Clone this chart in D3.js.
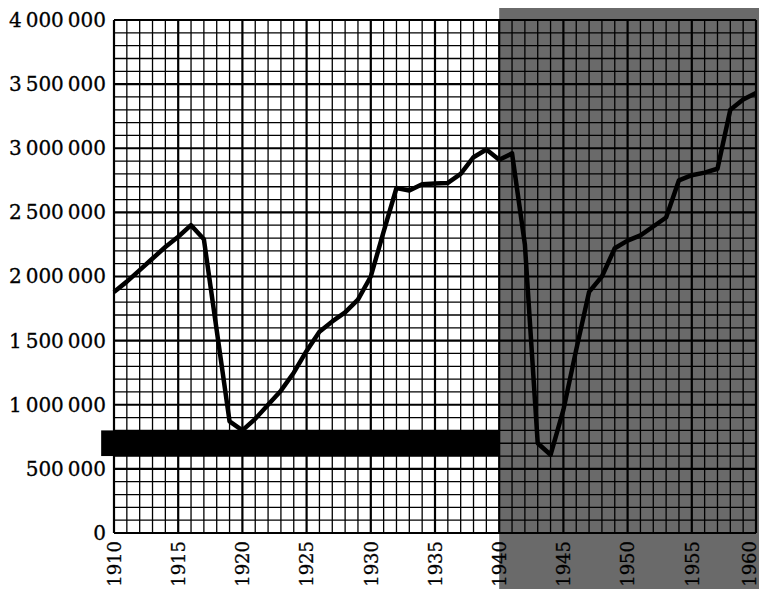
<!DOCTYPE html>
<html>
<head>
<meta charset="utf-8">
<script src="https://cdn.jsdelivr.net/npm/d3@7"></script>
<style>
  html, body { margin: 0; padding: 0; background: #fff; }
  svg { display: block; }
  text { font-family: "DejaVu Serif", "Liberation Serif", serif; fill: #000; }
</style>
</head>
<body>
<script>
// ---- data ----
const years = [1910,1911,1912,1913,1914,1915,1916,1917,1918,1919,
               1920,1921,1922,1923,1924,1925,1926,1927,1928,1929,
               1930,1931,1932,1933,1934,1935,1936,1937,1938,1939,
               1940,1941,1942,1943,1944,1945,1946,1947,1948,1949,
               1950,1951,1952,1953,1954,1955,1956,1957,1958,1959,1960];
const values = [1880000,1960000,2050000,2140000,2230000,2310000,2400000,2290000,1580000,870000,
                800000,890000,1000000,1110000,1250000,1420000,1570000,1650000,1720000,1820000,
                2000000,2350000,2690000,2670000,2720000,2725000,2730000,2800000,2930000,2990000,
                2910000,2960000,2250000,700000,610000,960000,1430000,1880000,2000000,2220000,
                2280000,2320000,2390000,2460000,2750000,2790000,2810000,2840000,3300000,3380000,3430000];
const yTicks = [0,500000,1000000,1500000,2000000,2500000,3000000,3500000,4000000];
const xTicks = [1910,1915,1920,1925,1930,1935,1940,1945,1950,1955,1960];
const bandYears = [1909, 1940];
const bandValues = [600000, 800000];
const shadeStartYear = 1940;

// ---- layout ----
const W = 759, H = 589;
const M = {left: 114, right: 3, top: 20, bottom: 56};
const iw = W - M.left - M.right, ih = H - M.top - M.bottom;

const svg = d3.select("body").append("svg").attr("width", W).attr("height", H);
const x = d3.scaleLinear().domain([1910, 1960]).range([M.left, M.left + iw]);
const y = d3.scaleLinear().domain([0, 4000000]).range([M.top + ih, M.top]);

// shaded region
svg.append("rect")
  .attr("x", x(shadeStartYear)).attr("y", M.top - 12)
  .attr("width", W - x(shadeStartYear)).attr("height", H - (M.top - 12))
  .attr("fill", "#6a6a6a");

// grid
const g = svg.append("g");
d3.range(1910, 1961).forEach(yr => {
  g.append("line")
    .attr("x1", x(yr)).attr("x2", x(yr))
    .attr("y1", y(4000000)).attr("y2", y(0))
    .attr("stroke", "#000")
    .attr("stroke-width", yr % 5 === 0 ? 2.2 : 1.3);
});
d3.range(0, 4000001, 100000).forEach(v => {
  g.append("line")
    .attr("x1", x(1910)).attr("x2", x(1960))
    .attr("y1", y(v)).attr("y2", y(v))
    .attr("stroke", "#000")
    .attr("stroke-width", v % 500000 === 0 ? 2.2 : 1.3);
});

// black band
svg.append("rect")
  .attr("x", x(bandYears[0])).attr("y", y(bandValues[1]))
  .attr("width", x(bandYears[1]) - x(bandYears[0]))
  .attr("height", y(bandValues[0]) - y(bandValues[1]))
  .attr("fill", "#000");

// data line
const line = d3.line().x((d, i) => x(years[i])).y(d => y(d));
svg.append("path")
  .datum(values)
  .attr("d", line)
  .attr("fill", "none")
  .attr("stroke", "#000")
  .attr("stroke-width", 4.5)
  .attr("stroke-linejoin", "round");

// y axis labels
const fmt = v => d3.format(",")(v).replace(/,/g, "\u2009");
const yAxis = d3.axisLeft(y).tickValues(yTicks).tickFormat(fmt).tickSize(0).tickPadding(8);
const ya = svg.append("g").attr("transform", `translate(${M.left},0)`).call(yAxis);
ya.select(".domain").remove();
ya.selectAll("text")
  .style("font-family", "DejaVu Serif, serif")
  .style("font-size", "20px")
  .attr("fill", "#000")
  .attr("stroke", "#000").attr("stroke-width", 0.3);

// x axis labels
const xAxis = d3.axisBottom(x).tickValues(xTicks).tickFormat(d3.format("d")).tickSize(0);
const xa = svg.append("g").attr("transform", `translate(0,${M.top + ih})`).call(xAxis);
xa.select(".domain").remove();
xa.selectAll("text")
  .style("font-family", "DejaVu Serif, serif")
  .style("font-size", "18px")
  .attr("fill", "#000")
  .attr("stroke", "#000").attr("stroke-width", 0.3)
  .attr("transform", "rotate(-90)")
  .attr("text-anchor", "end")
  .attr("x", -8)
  .attr("y", d => (x(d) + 10 > W ? W - 10 - x(d) : 0))
  .attr("dy", "0.35em");
</script>
</body>
</html>
